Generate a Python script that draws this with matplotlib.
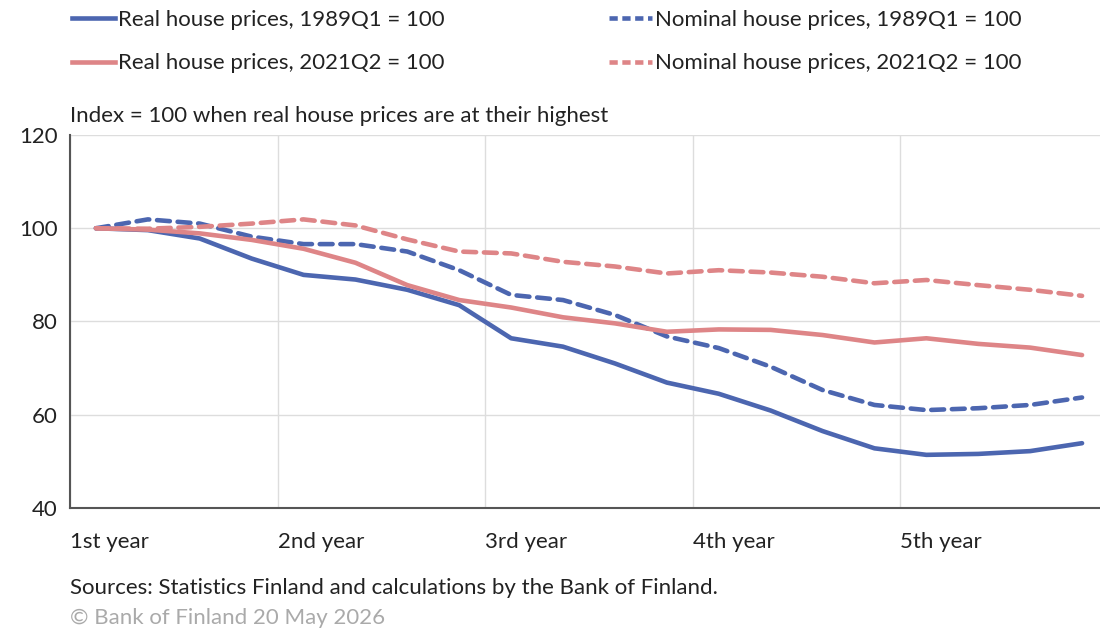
import matplotlib
matplotlib.use("Agg")
import matplotlib.pyplot as plt
from matplotlib.lines import Line2D

plt.rcParams['font.family'] = ['Lato', 'DejaVu Sans']

quarters = list(range(20))
year_labels = ["1st year", "2nd year", "3rd year", "4th year", "5th year"]

real_1989 = [100, 99.6, 97.8, 93.5, 90.0, 89.0, 86.8, 83.5, 76.4, 74.6,
             71.0, 66.9, 64.5, 60.9, 56.5, 52.8, 51.4, 51.6, 52.2, 53.9]
nominal_1989 = [100, 101.9, 101.0, 98.2, 96.6, 96.6, 95.0, 91.0, 85.7, 84.6,
                81.4, 76.8, 74.3, 70.3, 65.3, 62.1, 61.0, 61.4, 62.1, 63.7]
real_2021 = [100, 99.7, 98.9, 97.5, 95.6, 92.6, 87.8, 84.6, 83.0, 80.9,
             79.6, 77.8, 78.3, 78.2, 77.1, 75.5, 76.4, 75.2, 74.4, 72.8]
nominal_2021 = [100, 99.9, 100.3, 101.0, 101.9, 100.6, 97.6, 95.0, 94.6, 92.8,
                91.8, 90.3, 91.0, 90.5, 89.6, 88.2, 88.9, 87.8, 86.8, 85.5]

labels = ["Real house prices, 1989Q1 = 100",
          "Nominal house prices, 1989Q1 = 100",
          "Real house prices, 2021Q2 = 100",
          "Nominal house prices, 2021Q2 = 100"]

BLUE = "#4C66B0"
RED = "#DE8587"
FS = 16
W, H = 1100, 630
fig = plt.figure(figsize=(11, 6.3), dpi=100)
ax = fig.add_axes([70 / W, 1 - 508 / H, (1108 - 70) / W, (508 - 135) / H])

lw = 3.3
ax.plot(quarters, real_1989, color=BLUE, lw=lw, solid_capstyle='round')
ax.plot(quarters, nominal_1989, color=BLUE, lw=lw, dashes=(2.8, 1.7), dash_capstyle='round')
ax.plot(quarters, real_2021, color=RED, lw=lw, solid_capstyle='round')
ax.plot(quarters, nominal_2021, color=RED, lw=lw, dashes=(2.8, 1.7), dash_capstyle='round')

ax.set_xlim(-0.5, 19.5)
ax.set_ylim(40, 120)
ax.set_yticks([40, 60, 80, 100, 120])
ax.set_xticks([-0.5 + 4 * i for i in range(5)])
ax.set_xticklabels(year_labels, ha='left')
ax.tick_params(axis='both', length=0, labelsize=FS, labelcolor='#222222')
ax.tick_params(axis='x', pad=17)
ax.tick_params(axis='y', pad=9)
ax.grid(True, color='#dddddd', lw=1)
ax.set_axisbelow(True)
for s in ['top', 'right']:
    ax.spines[s].set_visible(False)
for s in ['left', 'bottom']:
    ax.spines[s].set_color('#555555')
    ax.spines[s].set_linewidth(1.5)

# legend
handles = [Line2D([], [], color=BLUE, lw=lw),
           Line2D([], [], color=BLUE, lw=lw, dashes=(1.8, 1)),
           Line2D([], [], color=RED, lw=lw),
           Line2D([], [], color=RED, lw=lw, dashes=(1.8, 1))]
order = [0, 2, 1, 3]
fig.legend([handles[i] for i in order], [labels[i] for i in order], ncol=2,
           loc='upper left', bbox_to_anchor=(72 / W, 1 - 10 / H), frameon=False,
           fontsize=FS, handlelength=1.95, handletextpad=0.12, columnspacing=7.4,
           labelspacing=1.05, labelcolor='#222222', borderpad=0, borderaxespad=0)

fig.text(70 / W, 1 - 116 / H, "Index = 100 when real house prices are at their highest",
         fontsize=FS, color='#222222', va='center', ha='left')
fig.text(70 / W, 1 - 588 / H, "Sources: Statistics Finland and calculations by the Bank of Finland.",
         fontsize=FS, color='#222222', va='center', ha='left')
fig.text(70 / W, 1 - 618 / H, "© Bank of Finland 20 May 2026",
         fontsize=FS, color='#aaaaaa', va='center', ha='left')

fig.savefig("out.png", dpi=100)
